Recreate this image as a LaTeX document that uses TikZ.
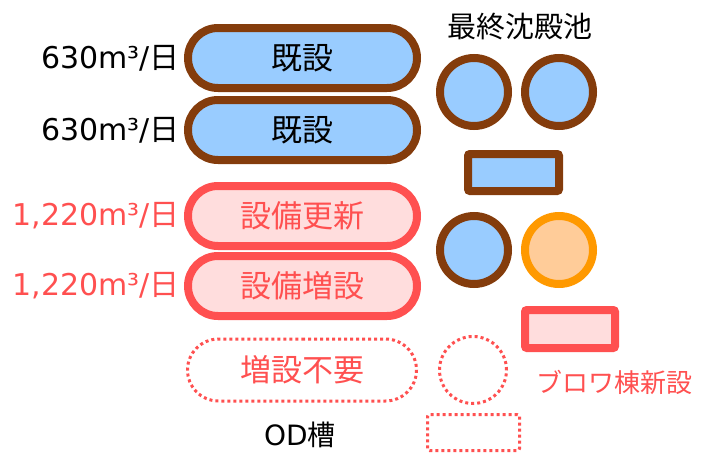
\documentclass[tikz,border=0pt]{standalone}
\usepackage{fontspec}
\setmainfont{Noto Sans CJK JP}
\newfontfamily\latinfont{DejaVu Sans}
\usepackage{tikz}
\usetikzlibrary{shapes, positioning}

\definecolor{brownline}{HTML}{843C0C}
\definecolor{bluefill}{HTML}{99CCFF}
\definecolor{redline}{HTML}{FF5050}
\definecolor{pinkfill}{HTML}{FFDDDD}
\definecolor{orangeline}{HTML}{FF9900}
\definecolor{orangefill}{HTML}{FFCC99}

\begin{document}
\begin{tikzpicture}[x=1pt, y=-1pt, font=\fontsize{31}{34}\selectfont,
    oldpart/.style={draw=brownline, fill=bluefill, line width=8pt},
    newpart/.style={draw=redline, fill=pinkfill, line width=8pt, text=redline},
    nopart/.style={draw=redline, line width=3pt, dash pattern=on 3pt off 3pt, text=redline},
    pill/.style={rounded rectangle, minimum width=229pt, minimum height=60pt, inner sep=0pt},
    tank/.style={circle, minimum size=68pt, inner sep=0pt},
    box/.style={rectangle, rounded corners=2pt, minimum width=91pt, minimum height=37pt, inner sep=0pt},
    flowtext/.style={inner sep=0pt, font=\fontsize{30}{34}\selectfont}]
    \useasboundingbox (0,0) rectangle (709,455);

    % OD tanks
    \node[pill, oldpart] (od1) at (302.5,58) {既設};
    \node[pill, oldpart, below=4pt of od1] (od2) {既設};
    \node[pill, newpart] (od3) at (302.5,216) {設備更新};
    \node[pill, newpart, below=2pt of od3] (od4) {設備増設};
    \node[pill, nopart, minimum height=62pt] (od5) at (302,370) {増設不要};
    \node[font=\fontsize{28}{32}\selectfont] (odname) at (300,435) {{\latinfont OD}槽};

    \node[flowtext, left=4pt of od1] (q1) {{\latinfont 630m³/}日};
    \node[flowtext, left=4pt of od2] (q2) {{\latinfont 630m³/}日};
    \node[flowtext, left=4pt of od3, text=redline] (q3) {{\latinfont 1,220m³/}日};
    \node[flowtext, left=4pt of od4, text=redline] (q4) {{\latinfont 1,220m³/}日};

    % final settling tanks
    \node[font=\fontsize{29}{32}\selectfont] (fstname) at (520,27) {最終沈殿池};
    \node[tank, oldpart] (fst1) at (474,92) {};
    \node[tank, oldpart] (fst2) at (559,92) {};
    \node[tank, oldpart] (fst3) at (474,250) {};
    \node[tank, draw=orangeline, fill=orangefill, line width=8pt] (fst4) at (559,250) {};
    \node[tank, nopart, minimum size=67pt] (fst5) at (473,370) {};

    % blower buildings
    \node[box, oldpart] (blw1) at (513.5,172.5) {};
    \node[box, newpart, minimum width=90pt, minimum height=38pt] (blw2) at (570,329) {};
    \node[box, nopart, minimum width=92pt, minimum height=36pt] (blw3) at (473.5,432.5) {};
    \node[text=redline, font=\fontsize{26}{30}\selectfont] (blwname) at (614,382) {ブロワ棟新設};
\end{tikzpicture}
\end{document}
